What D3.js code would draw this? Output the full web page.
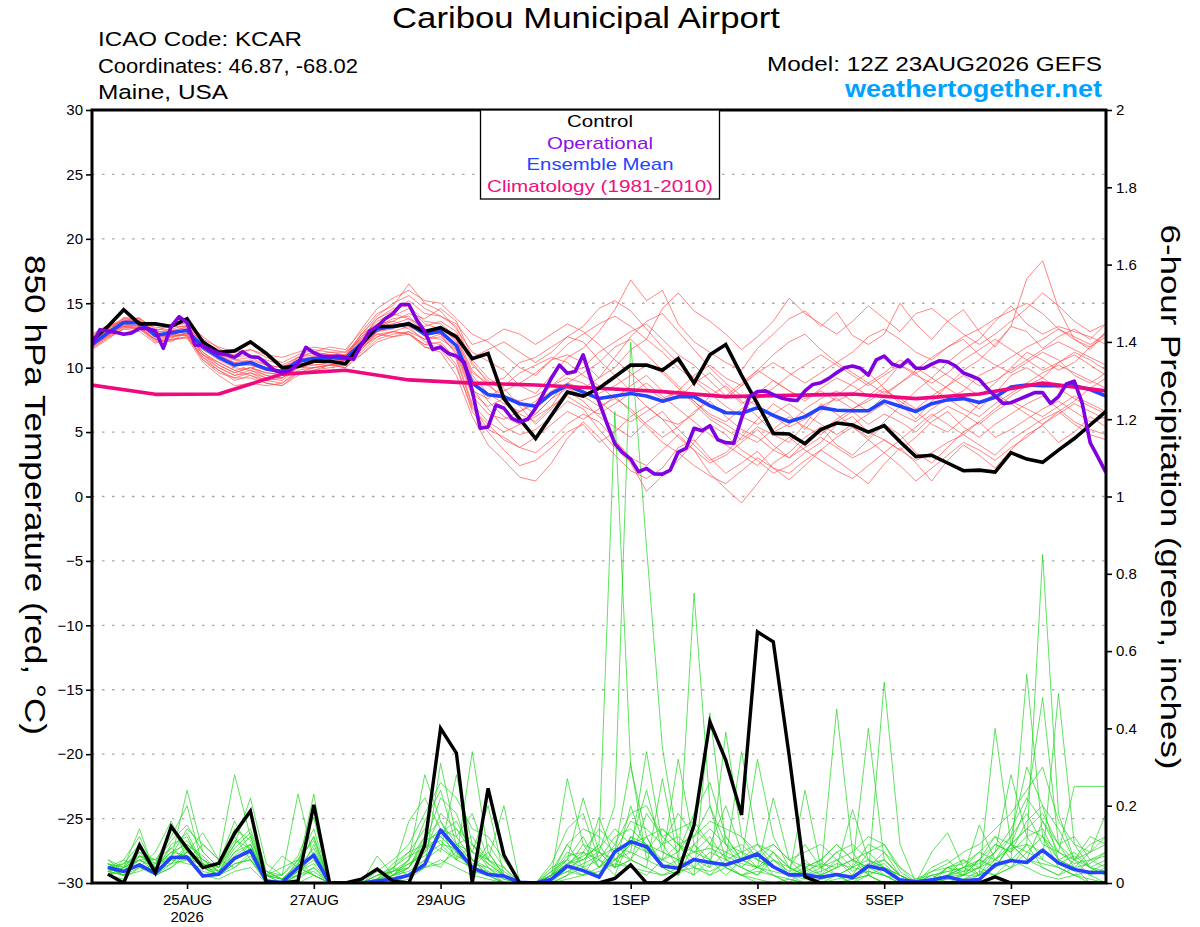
<!DOCTYPE html>
<html>
<head>
<meta charset="utf-8">
<script src="https://cdn.jsdelivr.net/npm/d3@7"></script>
<style>
body { margin: 0; background: #fff; }
svg { font-family: "Liberation Sans", Arial, sans-serif; }
</style>
</head>
<body>
<div id="main"></div>
<script>

// datas

// temperature ticks (left) and precip ticks (right)
const tempTicks = [-30, -25, -20, -15, -10, -5, 0, 5, 10, 15, 20, 25, 30];
const precipTicks = [0, 0.2, 0.4, 0.6, 0.8, 1, 1.2, 1.4, 1.6, 1.8, 2];

// forecast hours from 12Z 23AUG, labelled days
const dateHours = [36, 84, 132, 204, 252, 300, 348];
const dateLabels = ['25AUG', '27AUG', '29AUG', '1SEP', '3SEP', '5SEP', '7SEP'];

// control (6 hourly, 0..384h)
const controlTemp = [12.1, 13.2, 14.5, 13.4, 13.4, 13.2, 13.8, 12.0, 11.2, 11.3, 12.0, 11.1, 10.0, 10.1, 10.5, 10.5, 10.3, 11.8, 13.2, 13.2, 13.4, 12.8, 13.1, 12.4, 10.7, 11.1, 7.6, 6.0, 4.5, 6.3, 8.1, 7.8, 8.4, 9.3, 10.2, 10.2, 9.8, 10.7, 8.8, 11.0, 11.8, 9.4, 7.2, 4.9, 4.85, 4.1, 5.2, 5.7, 5.55, 5.0, 5.5, 4.25, 3.1, 3.2, 2.6, 2.0, 2.05, 1.9, 3.4, 2.9, 2.65, 3.6, 4.5, 5.55, 6.6];

// ensemble mean (6 hourly)
const meanTemp = [11.8, 12.7, 13.5, 13.5, 12.5, 12.7, 12.9, 11.6, 10.8, 10.2, 10.4, 9.9, 9.7, 10.5, 10.7, 10.8, 10.7, 11.9, 13.0, 13.2, 13.4, 12.6, 12.8, 11.7, 8.8, 7.9, 7.75, 7.2, 7.0, 8.0, 8.6, 8.1, 7.6, 7.8, 8.0, 7.8, 7.4, 7.75, 7.75, 7.05, 6.5, 6.46, 6.9, 6.3, 5.8, 6.2, 6.9, 6.7, 6.66, 6.66, 7.4, 7.0, 6.6, 7.2, 7.5, 7.6, 7.3, 7.7, 8.5, 8.65, 8.6, 8.6, 8.6, 8.3, 7.8];

// operational (3 hourly, 0..384h)
const operTemp = [11.76, 12.95, 12.85, 12.74, 12.6, 12.7, 13.05, 13.05, 12.85, 11.5, 13.2, 13.96, 13.5, 11.76, 11.7, 11.37, 11.1, 11.0, 10.8, 11.24, 10.85, 10.8, 10.34, 9.8, 9.6,
  9.8, 10.3, 11.58, 11.16, 10.9, 10.85, 10.9, 10.8, 10.65, 11.76, 12.8, 13.2, 13.8, 14.2, 14.9, 14.9, 13.7, 12.8, 11.4, 11.6, 11.1, 10.9, 10.4, 8.2,
  5.3, 5.4, 7.1, 6.85, 6.07, 5.8, 6.0, 6.85, 8.0, 9.2, 10.2, 9.56, 9.7, 11.0, 9.05, 7.36, 5.68, 4.1, 3.4, 2.9, 1.92, 2.18, 1.75, 1.74, 2.05, 3.45, 3.74, 5.3, 5.1, 5.5, 4.4, 4.18, 4.13, 6.07, 7.75, 8.14, 8.2, 7.9, 7.65, 7.5,
  7.45, 8.2, 8.7, 8.83, 9.17, 9.6, 10.0, 10.13, 9.95, 9.43, 10.6, 10.9, 10.28, 10.07, 10.6, 9.95, 9.95, 10.28, 10.54, 10.46, 10.13, 9.6, 9.35, 9.09, 8.4, 7.8, 7.23, 7.28, 7.54, 7.8, 8.06, 8.06, 7.23, 7.75, 8.73, 8.96, 7.23, 4.18, 3.04, 1.85];

// climatology (daily at 12Z)
const climTemp = [8.65, 7.93, 7.96, 9.5, 9.8, 9.05, 8.8, 8.66, 8.4, 8.14, 7.75, 7.85, 7.95, 7.6, 7.95, 8.8, 8.2];

// ensemble members temperature (6 hourly)
const memberTemp = [
  [12.2,13.0,13.8,13.6,12.9,13.2,13.5, 12.4,11.5,10.8,11.0,10.6,10.2,10.8,11.2,11.6,11.4, 12.8,14.2,14.8,16.5,15.0,14.4,13.0, 11.2,10.5,9.8,8.6,8.0,9.4,10.8, 11.5,12.8,14.5,16.8,15.2,16.0,13.4,12.0,11.2,10.4,9.8,11.5,12.6,13.8, 14.4,13.2,14.3,12.5,11.8,12.6,15.0,13.4,12.2,13.6,14.5,12.8,11.6,13.2,12.8,11.5,12.4,13.0,12.2,13.4],
  [11.5,12.4,13.2,13.0,12.0,12.2,12.4, 10.8,9.8,9.0,9.4,8.8,8.6,9.4,9.8,10.2,10.0, 11.0,12.2,12.6,12.8,11.6,11.2,9.4, 6.2,4.0,2.8,1.5,1.2,2.6,4.5, 5.8,4.6,3.2,2.0,1.4,2.2,3.8,4.4,3.0,1.8,2.6,3.5,2.2,1.3, 2.4,3.6,2.8,1.9,1.0,2.5,3.8,2.6,1.2,2.8,4.0,3.2,2.2,3.6,4.8,5.5,4.2,5.0,6.2,5.4],
  [12.0,12.8,13.6,13.9,12.6,12.5,13.0, 11.2,10.2,9.6,10.0,9.4,9.2,10.2,10.4,10.6,10.9, 12.4,13.6,14.2,13.8,13.2,13.6,12.8, 10.6,9.2,8.4,7.0,5.6,6.8,8.2, 7.4,6.2,5.4,4.6,5.8,6.6,5.2,4.0,2.8,3.4,4.6,6.0,7.2,6.4, 5.2,6.6,7.8,8.8,9.6,8.4,7.2,6.0,7.4,8.6,9.8,10.6,11.8,13.2,16.9,18.3,14.6,12.2,11.4,12.8],
  [11.6,12.6,13.3,13.2,12.4,12.9,12.6, 11.0,10.4,9.8,10.0,9.6,9.5,10.4,10.2,10.3,10.0, 11.4,12.6,12.4,12.8,12.2,12.6,11.0, 7.8,6.4,6.0,6.6,7.4,8.6,9.2, 8.8,8.0,8.6,9.4,10.2,9.6,8.4,7.2,6.0,5.2,4.4,5.4,4.8,4.2, 5.6,7.2,6.4,5.4,4.6,5.8,7.0,8.2,9.2,8.4,7.6,6.8,8.0,9.4,10.0,9.2,10.4,11.2,10.6,9.8],
  [12.3,12.9,13.4,13.2,12.2,12.0,12.8, 11.8,11.2,10.6,10.4,10.0,9.8,10.6,10.9,11.2,11.0, 12.6,13.4,14.0,14.6,13.4,13.0,12.2, 9.6,8.8,9.2,10.4,10.8,11.6,12.4, 12.0,10.6,9.4,8.2,7.0,6.0,5.6,6.4,7.8,8.6,7.4,6.2,5.0,5.6, 6.8,7.6,8.2,7.4,6.6,7.8,8.8,9.6,10.2,9.4,8.6,7.8,8.8,10.0,11.2,10.6,9.8,10.4,11.6,12.4],
  [11.9,12.5,13.7,13.4,12.3,12.8,13.2, 11.4,10.6,10.0,9.8,9.2,9.0,10.0,10.5,10.6,10.4, 11.8,13.2,13.8,14.0,12.8,13.2,12.0, 9.2,7.4,6.2,5.6,6.4,7.6,8.4, 7.8,7.0,7.6,8.6,9.4,8.2,7.6,8.8,9.6,8.4,7.2,8.0,9.0,8.2, 7.4,8.4,9.2,8.6,7.8,8.8,10.2,9.6,8.4,7.6,8.2,9.4,10.0,10.8,11.6,12.2,13.0,12.4,11.8,12.6],
  [11.4,12.2,13.1,13.3,12.7,12.6,12.5, 10.6,9.6,9.2,9.6,9.2,9.4,10.0,10.2,10.4,10.6, 11.2,12.4,12.8,12.6,11.8,12.0,10.6, 7.0,5.2,4.6,3.8,3.4,4.4,5.6, 6.4,5.8,4.4,3.0,2.4,3.6,4.8,3.6,1.8,0.6,-0.5,1.0,2.6,3.4, 4.6,5.4,4.0,3.2,4.4,5.6,4.8,3.4,2.6,3.8,5.0,5.8,4.6,5.2,6.0,6.8,7.4,6.6,5.8,6.2],
  [12.1,12.8,13.9,13.8,13.0,12.9,13.1, 12.0,11.4,11.0,11.4,10.8,10.4,11.0,11.4,11.2,11.2, 12.2,13.8,14.4,15.2,14.2,14.0,13.4, 11.8,12.2,13.0,12.6,11.8,12.6,13.4, 12.8,11.8,10.6,9.6,8.4,7.6,8.2,9.4,10.2,9.2,8.6,9.6,10.4,9.6, 8.8,9.6,10.4,11.2,12.4,13.0,12.2,11.2,10.6,11.6,12.2,11.0,10.2,9.6,10.4,11.2,10.6,9.4,8.8,9.6],
  [11.7,12.4,13.0,12.8,11.9,12.2,12.3, 10.4,9.4,8.6,8.8,8.6,8.8,9.6,9.8,10.0,10.2, 11.6,12.8,13.0,13.6,12.4,12.2,11.4, 8.4,6.8,5.4,4.8,5.2,6.2,7.4, 6.8,5.2,3.8,2.6,0.4,1.6,2.8,4.2,5.6,4.8,3.6,2.8,1.8,2.4, 3.4,4.2,5.6,6.2,5.0,4.4,3.6,4.6,5.8,6.6,5.4,4.6,5.6,6.4,7.2,7.8,6.8,5.8,5.2,4.8],
  [12.4,13.1,13.5,13.7,12.8,13.4,13.4, 12.2,11.0,10.2,10.2,9.8,9.6,10.8,11.0,10.8,10.6, 12.0,13.4,13.6,13.2,12.6,13.0,12.6, 10.2,9.0,8.2,8.8,9.6,10.6,11.0, 10.4,9.2,10.8,12.4,13.6,14.2,12.8,11.4,10.0,8.8,7.8,7.0,6.2,5.4, 6.0,7.0,7.6,6.8,7.4,8.2,7.6,6.8,7.8,8.6,9.4,8.6,9.0,9.8,10.6,11.4,12.0,11.4,10.8,10.2],
  [11.8,12.7,13.2,13.1,12.1,12.4,12.7, 11.0,10.0,9.4,9.6,9.0,8.8,9.8,10.0,10.2,10.2, 11.4,12.8,13.4,13.0,12.2,12.4,11.2, 8.0,7.0,7.6,7.2,6.4,7.6,8.8, 8.2,7.4,6.4,5.8,6.6,7.4,8.2,7.4,6.2,5.6,4.8,4.2,5.2,6.2, 5.4,4.8,5.8,6.6,5.6,6.4,5.8,5.0,6.2,7.0,6.4,5.6,6.6,7.4,6.8,6.2,7.0,7.8,7.2,6.6],
  [12.6,13.3,13.6,13.5,12.6,12.7,13.0, 11.6,10.8,10.4,10.6,10.2,10.0,10.6,10.8,11.0,10.8, 12.4,13.2,13.6,14.2,13.8,14.6,13.6, 10.8,11.4,12.0,11.2,10.4,11.2,12.4, 13.2,14.6,15.2,14.4,13.0,11.6,10.4,9.2,8.4,7.6,8.6,9.8,9.0,8.2, 7.6,8.2,7.4,8.0,8.8,9.6,10.6,10.0,9.2,10.4,11.4,12.2,13.6,14.8,13.4,12.6,13.2,12.8,12.4,11.8],
  [11.6,12.5,13.4,13.6,12.4,12.4,12.6, 11.2,10.4,9.8,9.4,9.0,9.2,10.0,10.4,10.4,10.6, 11.8,12.6,12.8,13.2,12.0,11.8,10.2, 6.6,5.0,3.6,2.4,2.8,3.8,5.0, 5.6,4.2,5.0,6.2,7.0,6.0,4.6,3.6,2.6,3.2,4.2,5.2,4.0,3.0, 3.8,4.6,3.8,3.0,3.6,4.4,3.6,2.8,3.4,4.2,4.8,4.0,3.2,4.4,5.2,6.0,6.6,5.6,4.8,4.4],
  [12.2,13.0,13.7,13.6,12.8,12.8,12.9, 11.6,11.0,10.6,10.8,10.2,10.0,10.8,11.2,11.0,11.0, 12.6,14.0,15.0,15.6,14.6,14.0,13.2, 10.4,8.8,7.4,6.4,5.8,7.0,8.8, 9.6,10.4,11.6,12.2,11.0,9.8,8.6,7.4,6.4,5.8,6.8,7.6,8.4,9.4, 10.2,11.0,10.2,9.4,8.6,9.4,10.2,9.4,8.8,9.6,10.6,11.4,12.2,11.4,10.6,9.8,10.4,11.0,10.2,9.4],
  [11.9,12.6,13.3,13.3,12.5,12.9,12.8, 11.4,10.8,10.2,10.4,10.0,9.8,10.4,10.6,10.8,10.4, 11.6,12.8,13.2,13.4,12.8,13.0,12.2, 9.4,8.0,7.2,6.6,7.2,8.2,8.8, 8.4,9.2,10.0,11.4,12.2,11.2,10.0,9.0,8.0,7.0,6.2,5.6,6.4,7.2, 6.4,5.6,4.8,5.6,6.4,7.2,6.4,5.8,6.8,7.6,6.8,6.2,7.2,8.0,8.8,9.6,10.2,9.6,9.0,8.4],
  [12.0,12.9,13.5,13.4,12.6,12.3,12.7, 11.0,10.2,9.6,10.0,9.6,9.4,10.2,10.6,10.8,10.8, 12.2,13.2,13.4,13.8,12.8,12.6,11.4, 8.2,7.6,8.6,9.6,10.2,10.8,10.4, 9.4,8.6,7.6,6.8,5.6,4.6,5.4,6.6,7.4,6.2,5.2,4.6,3.6,3.0, 4.2,5.0,6.0,6.8,7.6,8.4,7.4,6.6,5.6,5.0,6.0,7.2,8.0,7.2,6.4,5.6,6.6,7.4,8.4,9.2],
  [11.5,12.3,13.0,13.1,12.2,12.5,12.5, 10.8,10.0,9.4,9.8,9.4,9.2,10.0,10.0,10.2,10.4, 11.6,12.4,12.8,12.6,11.8,11.6,10.8, 7.2,5.8,5.0,5.6,6.2,7.0,7.8, 7.0,6.4,7.2,8.0,8.8,7.8,6.8,5.8,4.8,4.0,3.2,2.4,3.6,4.6, 3.6,2.8,2.0,1.4,2.4,3.4,4.4,5.4,6.4,5.6,4.8,5.8,6.8,7.8,8.6,9.2,8.4,7.6,7.0,6.4],
  [12.3,13.2,13.6,13.4,12.7,13.0,13.3, 11.8,11.0,10.4,10.2,9.8,9.6,10.4,10.8,11.0,10.8, 12.6,13.8,14.6,14.8,13.6,13.4,12.4, 9.8,8.6,7.8,7.4,7.8,8.6,9.6, 10.0,11.2,12.0,12.8,13.4,12.2,11.0,10.2,9.0,7.8,8.8,9.8,11.0,12.0, 12.6,11.4,10.4,9.6,8.8,8.0,8.8,9.8,10.8,11.6,12.4,13.0,13.8,14.4,15.0,14.2,13.0,12.2,11.6,12.8],
  [11.7,12.5,13.2,13.0,12.2,12.1,12.4, 10.6,9.8,9.2,9.2,8.8,8.6,9.6,10.0,10.2,10.4, 11.0,12.0,12.4,12.6,11.6,11.4,10.0, 6.8,5.6,4.4,3.8,4.6,5.6,6.6, 6.0,6.8,7.8,6.6,5.4,4.2,3.4,2.4,1.6,1.0,2.0,3.0,2.2,1.8, 2.8,3.6,4.6,5.4,4.4,3.4,2.4,1.2,2.2,3.2,4.2,3.6,2.8,3.8,4.6,5.6,6.4,7.2,6.6,6.0],
  [12.5,13.2,13.8,13.8,13.1,13.2,13.2, 12.2,11.6,11.2,11.4,11.0,10.8,11.2,11.6,11.4,11.2, 13.0,14.6,15.4,16.0,15.2,15.0,13.8, 12.6,12.0,11.0,10.0,9.4,10.6,11.8, 12.6,13.4,14.0,13.2,12.2,14.6,15.8,14.4,13.6,12.6,11.4,12.4,13.6,15.4, 14.2,13.4,12.6,13.6,14.8,13.8,12.8,14.2,14.6,13.6,12.6,11.8,12.6,13.6,14.6,15.8,14.8,13.6,12.8,13.4]
];

// 6-hour precipitation, ending at 6h..384h
const controlPrecip = [0.023, 0, 0.098, 0.027, 0.146, 0.09, 0.04, 0.051, 0.129, 0.186, 0.003, 0, 0.005, 0.202, 0, 0, 0.01, 0.036, 0.005, 0, 0.098, 0.40, 0.336, 0, 0.245, 0.072, 0, 0, 0, 0, 0, 0, 0.012, 0.047, 0, 0, 0.029, 0.15, 0.417, 0.318, 0.176, 0.65, 0.624, 0.33, 0.016, 0, 0, 0, 0, 0, 0, 0, 0, 0, 0, 0, 0.016, 0, 0, 0, 0, 0, 0, 0];

const meanPrecip = [0.04, 0.03, 0.047, 0.025, 0.066, 0.067, 0.018, 0.023, 0.064, 0.084, 0.004, 0.002, 0.04, 0.072, 0, 0, 0, 0.005, 0.01, 0.02, 0.048, 0.137, 0.09, 0.04, 0.022, 0.018, 0.002, 0, 0.01, 0.044, 0.032, 0.015, 0.081, 0.107, 0.094, 0.044, 0.038, 0.061, 0.053, 0.047, 0.06, 0.075, 0.042, 0.021, 0.021, 0.015, 0.022, 0.014, 0.044, 0.035, 0.008, 0.003, 0.008, 0.016, 0.006, 0.009, 0.047, 0.058, 0.053, 0.085, 0.052, 0.035, 0.027, 0.027];

const memberPrecip = [
  [.04,.02,.08,.03,.10,.12,.04,.02,.06,.10, 0,0,.02,.08,0,0,0,0,.01,.04, .10,.22,.18,.06,.02,0,0,0,.02,.08, .06,.10,1.22,.30,.12,.04,.02,.06,.10,.04, .02,0,0,.01,0,.02,.04,.06,.02,0, 0,0,0,.02,.04,.08,.12,.06,.10,.85, .18,.06,.02,0],
  [.06,.04,.14,.02,.06,.24,.08,.04,.12,.06, .01,0,.04,.02,0,0,0,.02,.04,.08, .14,.10,.06,.34,.08,.02,0,0,0,.04, .02,.08,.20,1.40,.87,.35,.10,.04,.02,.06, .08,.04,.02,0,0,.01,.02,0,.04,.08, .02,0,0,0,.02,.06,.04,.10,.20,.48, .10,.04,0,0],
  [.02,.06,.04,.08,.16,.06,.10,.06,.28,.12, .02,.04,.06,.02,0,0,0,0,.02,.06, .28,.16,.08,.04,.10,.04,0,0,.02,.10, .04,.06,.02,.12,.08,.06,.32,.10,.06,.02, .06,.32,.12,.04,.02,0,0,.01,.02,.04, .02,0,.01,.04,.02,.02,.08,.28,.12,.06, .49,.10,.04,.02],
  [.05,.03,.06,.04,.08,.10,.06,.03,.10,.22, .05,.02,.23,.06,0,0,0,0,.01,.02, .04,.31,.12,.06,.04,0,0,0,0,.02, .08,.04,.06,.08,.34,.10,.04,.75,.20,.06, .04,.08,.02,0,.04,.02,.45,.08,.02,0, 0,.01,.02,0,0,0,.02,.06,.54,.12, .04,.02,.06,.04],
  [.03,.05,.10,.02,.04,.08,.13,.06,.04,.08, .02,0,.04,.23,0,0,0,0,.02,.04, .12,.08,.28,.10,.06,.02,0,0,.04,.06, .22,.08,.04,.06,.04,.27,.06,.02,.44,.10, .04,.02,.06,.02,0,0,.02,.04,.40,.06, .02,0,0,.04,.06,.02,.04,.10,.06,.16, .08,.25,.25,.25],
  [.02,.04,.06,.06,.12,.20,.04,.05,.16,.08, .03,.01,.02,.10,0,0,0,.01,.04,.02, .08,.18,.14,.08,.20,.02,0,0,.02,.27, .10,.04,.08,.31,.06,.04,.02,.10,.04,.39, .12,.06,.04,.02,.24,.04,.02,0,.02,.52, .10,0,0,.02,.02,.04,.02,.04,.10,.04, .02,.04,.08,.18],
  [.04,.02,.05,.03,.06,.08,.04,.02,.05,.06, 0,0,.01,.04,0,0,0,0,0,.02, .06,.04,.10,.06,.02,0,0,0,0,.02, .04,.02,.06,.04,.02,.06,.04,.02,.06,.04, .02,.04,.22,.06,.02,0,.01,.02,.04,.02, 0,0,0,0,0,.02,.06,.04,.08,.06, .04,.02,.01,0],
  [.06,.03,.09,.05,.14,.08,.06,.04,.10,.14, .02,.07,.04,.02,0,0,0,.07,.02,.06, .16,.24,.10,.12,.06,.20,0,0,.02,.06, .04,.17,.06,.10,.24,.08,.06,.04,.08,.06, .34,.10,.04,.02,.06,.02,.04,.19,.06,.02, 0,0,.08,.13,.04,.02,.40,.10,.06,.04, .02,.06,.04,.02],
  [.02,.01,.04,.02,.05,.06,.02,.01,.03,.04, 0,0,0,.02,0,0,0,0,0,.01, .04,.06,.04,.02,.01,0,0,0,0,.01, .02,.04,.08,.06,.04,.02,.04,.06,.02,.04, .02,.01,0,0,0,0,0,.01,.02,0, 0,0,0,0,.01,.02,.04,.06,.04,.02, .01,.02,0,0],
  [.04,.06,.12,.03,.07,.14,.10,.06,.12,.18, .03,.02,.06,.14,0,0,0,0,.03,.16, .22,.14,.06,.04,.08,.02,0,0,.05,.14, .18,.06,.04,.12,.10,.06,.08,.18,.26,.12, .06,.04,.08,.04,.02,.06,.10,.06,.04,.06, .02,0,.04,.06,.02,.15,.06,.12,.30,.20, .14,.06,.12,.10],
  [.03,.02,.07,.04,.09,.06,.03,.02,.08,.12, .01,0,.03,.06,0,0,0,0,.02,.05, .08,.12,.08,.04,.03,0,0,0,.01,.05, .06,.10,.04,.20,.08,.14,.10,.06,.04,.08, .10,.06,.04,.02,.01,.02,.06,.02,.08,.04, 0,0,.02,.03,.02,.04,.10,.08,.16,.20, .06,.04,.02,.04],
  [.05,.04,.08,.06,.05,.10,.07,.03,.06,.09, .02,.01,.05,.12,0,0,0,.01,.05,.08, .10,.14,.12,.18,.06,.04,0,0,.03,.06, .12,.04,.10,.06,.18,.12,.08,.14,.10,.20, .08,.10,.06,.04,.10,.04,.08,.04,.10,.08, .04,0,.01,.02,.06,.04,.08,.14,.22,.16, .10,.12,.06,.08],
  [.02,.03,.05,.02,.04,.07,.05,.02,.04,.07, 0,0,.02,.04,0,0,0,0,.02,.03, .06,.09,.06,.10,.04,.02,0,0,.02,.04, .06,.08,.04,.06,.12,.04,.06,.08,.12,.06, .04,.02,.08,.02,.04,.06,.02,.04,.06,.04, .02,0,0,.01,.02,.06,.04,.10,.08,.12, .06,.08,.04,.06],
  [.04,.05,.07,.05,.11,.15,.08,.04,.14,.11, .02,.02,.07,.17,0,0,0,.03,.06,.10, .18,.26,.22,.14,.12,.06,0,0,.03,.10, .14,.12,.08,.16,.14,.10,.18,.12,.16,.14, .12,.08,.10,.06,.08,.10,.06,.08,.12,.10, .04,.01,.03,.05,.08,.10,.14,.18,.24,.30, .16,.10,.08,.10],
  [.03,.02,.04,.03,.06,.05,.04,.02,.05,.06, .01,0,.02,.03,0,0,0,0,.01,.02, .04,.05,.08,.03,.02,0,0,0,.01,.03, .02,.03,.05,.04,.03,.02,.03,.04,.03,.05, .02,.03,.02,.01,0,.01,.02,.02,.03,.02, 0,0,0,.01,.01,.03,.02,.04,.06,.05, .04,.02,.03,.05],
  [.05,.03,.06,.04,.07,.11,.06,.03,.07,.10, .02,.01,.04,.09,0,0,0,.02,.03,.06, .12,.16,.10,.08,.05,.02,0,0,.02,.05, .08,.06,.12,.14,.10,.08,.06,.10,.14,.10, .06,.04,.06,.03,.05,.04,.06,.03,.05,.06, .02,0,.02,.03,.04,.05,.08,.12,.18,.10, .08,.05,.06,.07],
  [.02,.04,.06,.03,.05,.09,.05,.03,.08,.10, .01,0,.03,.05,0,0,0,0,.04,.07, .09,.11,.07,.05,.04,.01,0,0,.02,.04, .10,.08,.06,.10,.08,.06,.10,.08,.06,.12, .06,.08,.04,.02,.03,.05,.04,.06,.04,.05, .01,0,.01,.04,.03,.06,.10,.08,.12,.14, .06,.04,.05,.08],
  [.04,.02,.03,.05,.07,.06,.05,.02,.06,.08, .02,.01,.03,.07,0,0,0,.01,.03,.05, .07,.10,.09,.06,.03,.01,0,0,.01,.03, .05,.07,.09,.08,.06,.10,.12,.08,.09,.07, .05,.04,.03,.02,.02,.03,.05,.04,.03,.02, .01,0,0,.02,.03,.04,.06,.09,.10,.08, .05,.07,.04,.03],
  [.03,.04,.09,.04,.08,.07,.04,.03,.09,.13, .02,0,.06,.11,0,0,0,.02,.03,.04, .11,.13,.16,.08,.06,.03,0,0,.02,.07, .08,.14,.10,.18,.20,.12,.14,.16,.10,.08, .06,.10,.08,.04,.02,.04,.08,.10,.06,.04, .02,0,.03,.04,.05,.08,.06,.10,.14,.18, .10,.06,.08,.12],
  [.05,.03,.07,.06,.09,.13,.05,.04,.11,.09, .03,.01,.05,.12,0,0,0,.01,.02,.04, .09,.12,.14,.10,.05,.02,0,0,.02,.05, .07,.09,.14,.10,.12,.14,.10,.12,.20,.10, .08,.06,.10,.06,.04,.06,.10,.06,.08,.10, .03,0,.01,.02,.04,.06,.12,.10,.14,.12, .08,.06,.10,.12]
];


const w = 1200;
const h = 927;

const svg = d3.select('#main').append('svg').attr('width', w).attr('height', h);

// the original lettering is wider than Liberation Sans, so stretch to the measured widths
function stretch(sel, len) {
    sel.attr('textLength', len).attr('lengthAdjust', 'spacingAndGlyphs');
}

// scales

const x = d3.scaleLinear().domain([0, 384]).range([92, 1106]);
const yT = d3.scaleLinear().domain([-30, 30]).range([883, 110]);
const yP = d3.scaleLinear().domain([0, 2]).range([883, 110]);

svg.append('clipPath').attr('id', 'plot')
    .append('rect')
    .attr('x', x(0)).attr('y', yT(30))
    .attr('width', x(384) - x(0)).attr('height', yT(-30) - yT(30));

// grid

svg.append('g').selectAll('line')
    .data(tempTicks.filter(d => d > -30 && d < 30))
    .enter()
    .append('line')
    .attr('x1', x(0)).attr('x2', x(384))
    .attr('y1', d => yT(d)).attr('y2', d => yT(d))
    .attr('stroke', '#a8a8a8')
    .attr('stroke-width', 1.3)
    .attr('stroke-dasharray', '2.5,7.5');

// line makers

const tLine6 = d3.line().x((d, i) => x(i * 6)).y(d => yT(d));
const tLine3 = d3.line().x((d, i) => x(i * 3)).y(d => yT(d));
const tLine24 = d3.line().x((d, i) => x(i * 24)).y(d => yT(d));
const pLine = d3.line().x((d, i) => x((i + 1) * 6)).y(d => yP(d));

const lines = svg.append('g').attr('clip-path', 'url(#plot)');

// ensemble members
lines.append('g').selectAll('path')
    .data(memberTemp)
    .enter()
    .append('path')
    .attr('d', tLine6)
    .attr('fill', 'none')
    .attr('stroke', '#ff4a4a')
    .attr('stroke-opacity', 0.75)
    .attr('stroke-width', 0.9);

lines.append('g').selectAll('path')
    .data(memberPrecip)
    .enter()
    .append('path')
    .attr('d', pLine)
    .attr('fill', 'none')
    .attr('stroke', '#22d622')
    .attr('stroke-opacity', 0.8)
    .attr('stroke-width', 0.9);

// thick lines
lines.append('path').datum(meanTemp)
    .attr('d', tLine6).attr('fill', 'none')
    .attr('stroke', '#2443ff').attr('stroke-width', 3.6).attr('stroke-linejoin', 'round');

lines.append('path').datum(climTemp)
    .attr('d', tLine24).attr('fill', 'none')
    .attr('stroke', '#f0087f').attr('stroke-width', 3.6).attr('stroke-linejoin', 'round');

lines.append('path').datum(controlTemp)
    .attr('d', tLine6).attr('fill', 'none')
    .attr('stroke', '#000').attr('stroke-width', 3.6);

lines.append('path').datum(operTemp)
    .attr('d', tLine3).attr('fill', 'none')
    .attr('stroke', '#8000e0').attr('stroke-width', 3.6).attr('stroke-linejoin', 'round');

lines.append('path').datum(meanPrecip)
    .attr('d', pLine).attr('fill', 'none')
    .attr('stroke', '#2443ff').attr('stroke-width', 3.6).attr('stroke-linejoin', 'round');

lines.append('path').datum(controlPrecip)
    .attr('d', pLine).attr('fill', 'none')
    .attr('stroke', '#000').attr('stroke-width', 3.4);

// axes

const leftAxis = d3.axisLeft(yT).tickValues(tempTicks).tickSize(6).tickPadding(3);
const rightAxis = d3.axisRight(yP).tickValues(precipTicks).tickSize(6).tickPadding(4)
    .tickFormat(d => d3.format('~g')(d));
const bottomAxis = d3.axisBottom(x).tickValues(dateHours).tickSize(6).tickPadding(5)
    .tickFormat((d, i) => dateLabels[i]);

function styleAxis(g) {
    g.select('.domain').remove();
    g.selectAll('.tick line').attr('stroke', '#000').attr('stroke-width', 1.6);
    g.selectAll('.tick text').attr('fill', '#000').style('font-size', '15px')
        .style('font-family', '"Liberation Sans", Arial, sans-serif');
}

svg.append('g').attr('transform', `translate(${x(0)},0)`).call(leftAxis).call(styleAxis);
svg.append('g').attr('transform', `translate(${x(384)},0)`).call(rightAxis).call(styleAxis);
svg.append('g').attr('transform', `translate(0,${yT(-30)})`).call(bottomAxis).call(styleAxis);

svg.append('text')
    .attr('x', x(dateHours[0])).attr('y', 922)
    .attr('text-anchor', 'middle')
    .style('font-size', '15px')
    .text('2026');

// frame

svg.append('rect')
    .attr('x', x(0)).attr('y', yT(30))
    .attr('width', x(384) - x(0)).attr('height', yT(-30) - yT(30))
    .attr('fill', 'none')
    .attr('stroke', '#000')
    .attr('stroke-width', 3);

// legend

const legend = svg.append('g').attr('id', 'legend');
legend.append('rect')
    .attr('x', 480.5).attr('y', yT(30)).attr('width', 239).attr('height', 89)
    .attr('fill', '#fff').attr('stroke', '#000').attr('stroke-width', 1.3);

const legendItems = ['Control', 'Operational', 'Ensemble Mean', 'Climatology (1981-2010)'];
const legendColors = ['#000', '#8a10e8', '#2443ff', '#f0107f'];
const legendWidths = [66, 106, 147, 226];

legend.selectAll('text')
    .data(legendItems)
    .enter()
    .append('text')
    .attr('x', 600)
    .attr('y', (d, i) => 127 + i * 21.6)
    .attr('text-anchor', 'middle')
    .attr('fill', (d, i) => legendColors[i])
    .attr('textLength', (d, i) => legendWidths[i])
    .attr('lengthAdjust', 'spacingAndGlyphs')
    .style('font-size', '17px')
    .text(d => d);

// titles

svg.append('text')
    .attr('x', 586).attr('y', 28)
    .attr('text-anchor', 'middle')
    .style('font-size', '30px')
    .text('Caribou Municipal Airport')
    .call(stretch, 388);

const info = ['ICAO Code: KCAR', 'Coordinates: 46.87, -68.02', 'Maine, USA'];
const infoWidths = [204, 260, 130];
svg.append('g').selectAll('text')
    .data(info)
    .enter()
    .append('text')
    .attr('x', 98)
    .attr('y', (d, i) => 46 + i * 26.7)
    .attr('textLength', (d, i) => infoWidths[i])
    .attr('lengthAdjust', 'spacingAndGlyphs')
    .style('font-size', '20.5px')
    .text(d => d);

svg.append('text')
    .attr('x', 1102).attr('y', 71)
    .attr('text-anchor', 'end')
    .style('font-size', '20.5px')
    .text('Model: 12Z 23AUG2026 GEFS')
    .call(stretch, 335);

svg.append('text')
    .attr('x', 1102).attr('y', 97)
    .attr('text-anchor', 'end')
    .attr('fill', '#00a2ff')
    .style('font-size', '23px')
    .style('font-weight', 'bold')
    .text('weathertogether.net')
    .call(stretch, 257);

svg.append('text')
    .attr('transform', 'translate(25,495) rotate(90)')
    .attr('text-anchor', 'middle')
    .style('font-size', '29px')
    .text('850 hPa Temperature (red, \u00B0C)')
    .call(stretch, 480);

svg.append('text')
    .attr('transform', 'translate(1161,497) rotate(90)')
    .attr('text-anchor', 'middle')
    .style('font-size', '28px')
    .text('6-hour Precipitation (green, inches)')
    .call(stretch, 545);

</script>
</body>
</html>
